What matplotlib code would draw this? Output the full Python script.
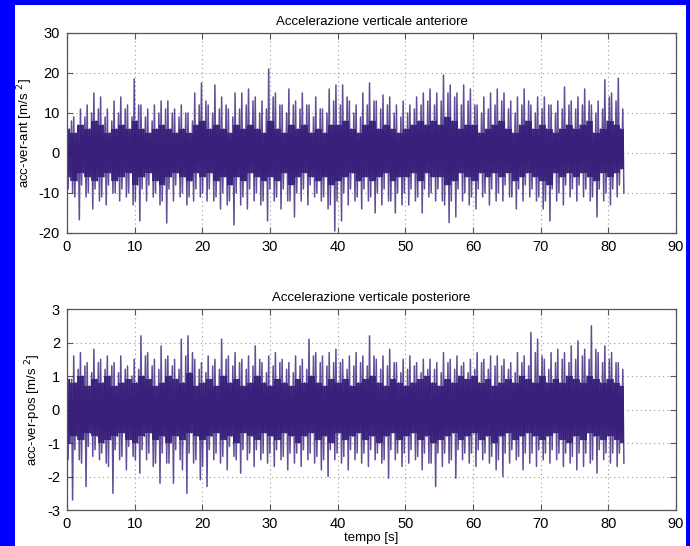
import numpy as np
import matplotlib
matplotlib.use("Agg")
import matplotlib.pyplot as plt
from matplotlib.patches import Rectangle

plt.rcParams['font.family'] = ['Liberation Sans', 'DejaVu Sans']
plt.rcParams['axes.unicode_minus'] = False

# per-second readings: main peak up/down, secondary peak up/down, dark band edges
ant_top = [10.5, 9, 11, 12, 15, 14, 11, 13, 14, 12,
           18.5, 12, 11, 12, 13, 13, 11, 12, 10, 15,
           17.5, 12, 17, 14, 11, 15, 15, 16, 14, 13,
           21, 15, 12, 16, 13, 15, 12, 14, 11, 16,
           17, 17, 13, 12, 15, 17.5, 13, 14.5, 14, 12,
           13, 12, 14, 15, 16, 15, 19.5, 17, 15, 17,
           16, 12, 14, 15, 16, 15, 13, 14, 16, 12,
           14, 14, 12, 13, 16.5, 13, 14, 16, 12, 13,
           18.3, 15, 18.7]
ant_top2 = [8, 7, 9, 10, 11, 9, 8, 10, 11, 9,
            12, 9, 8, 10, 11, 10, 9, 10, 8, 12,
            13, 10, 11, 12, 9, 11, 12, 13, 10, 11,
            14, 12, 10, 12, 11, 12, 9, 11, 10, 13,
            12, 14, 10, 9, 12, 13, 11, 12, 10, 9,
            10, 11, 12, 13, 12, 13, 15, 14, 12, 13,
            12, 10, 11, 12, 13, 11, 10, 12, 13, 10,
            11, 12, 10, 11, 12, 11, 12, 13, 10, 11,
            14, 13, 11]
ant_bot = [-10, -16.7, -11, -14, -12, -13, -10, -12, -11, -13,
           -17, -12, -11, -13, -17.5, -12, -11, -13, -12, -11,
           -12, -12, -14, -13, -18, -13, -14, -12, -13, -17,
           -12, -14, -12, -16, -12, -13, -11, -12, -14, -19.5,
           -17, -13, -12, -14, -12, -15, -13, -12, -15, -13,
           -13, -12, -15, -11, -12, -12, -17.4, -16, -12, -13,
           -14, -11, -13, -12, -12, -11, -14, -12, -11, -12,
           -14, -17, -12, -13, -11, -12, -11, -12, -16, -12,
           -13, -11, -10]
ant_bot2 = [-9, -11, -8, -10, -9, -11, -8, -10, -9, -10,
            -12, -9, -8, -10, -12, -9, -8, -10, -11, -9,
            -10, -9, -11, -10, -12, -10, -11, -9, -10, -12,
            -9, -11, -9, -12, -10, -9, -8, -10, -11, -13,
            -12, -10, -9, -11, -9, -11, -10, -9, -12, -10,
            -10, -9, -11, -9, -10, -9, -13, -12, -9, -10,
            -11, -9, -10, -9, -10, -8, -11, -9, -8, -9,
            -11, -12, -9, -10, -8, -9, -8, -9, -11, -9,
            -10, -9, -8]
ant_mid_hi = [6, 5, 7, 6, 8, 7, 5, 6, 7, 6,
              8, 6, 5, 6, 7, 6, 5, 6, 5, 7,
              8, 6, 7, 6, 5, 7, 6, 7, 6, 5,
              8, 6, 5, 7, 6, 7, 5, 6, 5, 7,
              7, 8, 6, 5, 7, 8, 6, 7, 6, 5,
              6, 7, 8, 7, 8, 7, 9, 8, 6, 7,
              7, 5, 6, 7, 8, 6, 5, 7, 8, 6,
              7, 6, 5, 6, 7, 6, 7, 8, 5, 6,
              8, 7, 6]
ant_mid_lo = [-6, -7, -5, -6, -7, -6, -5, -7, -6, -5,
              -8, -6, -5, -7, -8, -6, -5, -6, -7, -5,
              -6, -5, -7, -6, -8, -6, -7, -5, -6, -7,
              -6, -7, -5, -8, -6, -5, -6, -7, -6, -8,
              -7, -6, -5, -7, -6, -7, -6, -5, -7, -6,
              -6, -5, -7, -5, -6, -6, -8, -7, -5, -6,
              -7, -5, -6, -5, -6, -5, -7, -6, -5, -6,
              -7, -8, -5, -6, -5, -6, -5, -6, -7, -5,
              -6, -5, -4]

pos_top = [1.0, 1.6, 1.7, 1.4, 1.8, 1.5, 1.6, 1.4, 1.6, 1.3,
           1.5, 2.2, 1.7, 1.5, 1.9, 1.6, 1.5, 2.1, 2.2, 1.5,
           1.4, 1.6, 1.5, 2.1, 1.6, 1.7, 1.5, 1.6, 1.9, 1.4,
           1.6, 1.7, 1.5, 1.4, 1.6, 1.5, 2.1, 1.7, 1.6, 1.7,
           1.8, 1.5, 1.6, 1.7, 1.6, 2.2, 1.5, 1.6, 1.8, 1.4,
           1.5, 1.6, 1.4, 1.5, 1.5, 1.4, 1.7, 1.5, 1.6, 1.4,
           1.5, 1.7, 1.5, 1.6, 1.6, 1.5, 1.4, 1.7, 1.6, 2.3,
           2.1, 1.5, 1.7, 1.8, 1.7, 1.9, 2.05, 1.8, 2.5, 1.7,
           1.9, 1.7, 1.4]
pos_top2 = [0.9, 1.2, 1.3, 1.1, 1.4, 1.2, 1.3, 1.1, 1.2, 1.0,
            1.2, 1.6, 1.3, 1.2, 1.5, 1.3, 1.2, 1.6, 1.7, 1.2,
            1.1, 1.3, 1.2, 1.5, 1.3, 1.4, 1.2, 1.3, 1.5, 1.1,
            1.3, 1.4, 1.2, 1.1, 1.3, 1.2, 1.6, 1.4, 1.3, 1.4,
            1.4, 1.2, 1.3, 1.4, 1.3, 1.6, 1.2, 1.3, 1.4, 1.1,
            1.2, 1.3, 1.1, 1.2, 1.2, 1.1, 1.4, 1.2, 1.3, 1.1,
            1.2, 1.4, 1.2, 1.3, 1.3, 1.2, 1.1, 1.4, 1.3, 1.7,
            1.6, 1.2, 1.4, 1.5, 1.4, 1.5, 1.6, 1.5, 1.8, 1.4,
            1.5, 1.4, 1.2]
pos_bot = [-2.7, -1.5, -2.3, -1.4, -1.5, -1.6, -2.5, -1.5, -1.8, -1.4,
           -1.9, -1.5, -1.7, -2.2, -1.6, -2.2, -1.5, -2.5, -1.6, -2.1,
           -2.3, -1.5, -1.6, -1.8, -1.4, -1.9, -1.5, -1.7, -1.5, -1.6,
           -1.7, -1.5, -1.8, -1.6, -1.7, -1.5, -1.6, -1.8, -2.0, -1.5,
           -1.6, -1.8, -1.5, -1.6, -1.7, -1.5, -1.6, -2.05, -1.5, -1.7,
           -1.6, -1.5, -1.8, -1.6, -2.3, -1.7, -1.6, -2.05, -1.5, -1.6,
           -1.7, -1.5, -1.6, -1.8, -2.0, -1.6, -1.5, -1.8, -1.6, -1.7,
           -1.5, -1.6, -1.5, -1.7, -1.6, -1.8, -1.7, -1.6, -1.9, -1.5,
           -1.6, -1.7, -1.6]
pos_bot2 = [-1.5, -1.2, -1.6, -1.1, -1.2, -1.3, -1.7, -1.2, -1.4, -1.1,
            -1.5, -1.2, -1.3, -1.6, -1.3, -1.6, -1.2, -1.8, -1.3, -1.5,
            -1.7, -1.2, -1.3, -1.4, -1.1, -1.5, -1.2, -1.3, -1.2, -1.3,
            -1.3, -1.2, -1.4, -1.3, -1.3, -1.2, -1.3, -1.4, -1.5, -1.2,
            -1.3, -1.4, -1.2, -1.3, -1.3, -1.2, -1.3, -1.5, -1.2, -1.3,
            -1.3, -1.2, -1.4, -1.3, -1.6, -1.3, -1.3, -1.5, -1.2, -1.3,
            -1.3, -1.2, -1.3, -1.4, -1.5, -1.3, -1.2, -1.4, -1.3, -1.3,
            -1.2, -1.3, -1.2, -1.3, -1.3, -1.4, -1.3, -1.3, -1.5, -1.2,
            -1.3, -1.3, -1.3]
pos_mid_hi = [0.9, 0.8, 1.0, 0.7, 0.9, 0.8, 1.0, 0.7, 0.8, 0.9,
              0.8, 1.0, 0.9, 0.7, 0.8, 1.0, 0.9, 0.8, 1.1, 0.7,
              0.8, 0.9, 0.7, 1.0, 0.8, 0.9, 0.7, 0.8, 1.0, 0.8,
              0.7, 0.9, 0.8, 0.7, 0.9, 0.8, 1.0, 0.8, 0.7, 0.9,
              0.8, 0.9, 0.7, 0.8, 0.9, 1.0, 0.8, 0.7, 0.9, 0.8,
              0.7, 0.8, 0.9, 1.0, 0.8, 0.7, 0.9, 0.8, 1.0, 0.9,
              1.0, 0.8, 0.9, 0.7, 0.8, 0.9, 0.8, 1.0, 0.9, 0.8,
              1.0, 0.8, 0.9, 0.8, 1.0, 0.9, 0.8, 1.0, 0.9, 0.8,
              0.9, 0.8, 0.7]
pos_mid_lo = [-1.0, -0.8, -0.9, -0.7, -0.8, -1.0, -0.9, -0.8, -0.7, -0.9,
              -1.0, -0.8, -0.7, -0.9, -0.8, -1.0, -0.8, -0.9, -0.7, -0.8,
              -0.9, -0.8, -0.7, -0.9, -0.8, -1.0, -0.7, -0.8, -0.9, -0.7,
              -0.8, -0.9, -0.7, -0.8, -1.0, -0.8, -0.7, -0.9, -0.8, -1.0,
              -0.7, -0.9, -0.8, -0.7, -0.9, -0.8, -1.0, -0.8, -0.7, -0.9,
              -0.8, -0.7, -0.9, -0.8, -1.0, -0.9, -0.8, -0.7, -0.9, -0.8,
              -0.7, -0.9, -0.8, -1.0, -0.8, -0.7, -0.9, -0.8, -0.7, -0.8,
              -0.9, -0.8, -0.7, -0.9, -1.0, -0.8, -0.9, -0.7, -0.8, -0.9,
              -0.8, -0.9, -1.0]

t_end = 82.3
line_col = '#2c1274'
core_col = '#2a0e6c'


def draw(ax, top, top2, bot, bot2, mid_hi, mid_lo):
    # dark band where the signal is densest
    ts = np.linspace(0, t_end, len(mid_hi))
    ax.fill_between(ts, mid_lo, mid_hi, color=core_col, alpha=0.75, lw=0,
                    step='mid')
    seq = np.column_stack([top, bot2, mid_hi, mid_lo, top2, bot]).ravel()
    t = np.linspace(0, t_end, len(seq))
    ax.plot(t, seq, color=line_col, lw=1.1, alpha=0.75)


def style(ax, yticks):
    ax.set_xlim(0, 90)
    ax.set_ylim(yticks[0], yticks[-1])
    ax.set_xticks(range(0, 91, 10))
    ax.set_yticks(yticks)
    ax.set_axisbelow(True)
    ax.grid(True, linestyle=(0, (1, 3)), color='#999999', linewidth=0.8)
    ax.tick_params(direction='in', top=True, right=True, labelsize=10.5,
                   length=4, color='#555555', pad=5)
    for s in ax.spines.values():
        s.set_color('#555555')
        s.set_linewidth(0.9)


fig = plt.figure(figsize=(6.9, 5.46), dpi=100)

ax1 = fig.add_axes([0.0971, 0.5733, 0.8826, 0.3663])
draw(ax1, ant_top, ant_top2, ant_bot, ant_bot2, ant_mid_hi, ant_mid_lo)
style(ax1, [-20, -10, 0, 10, 20, 30])
ax1.set_title('Accelerazione verticale anteriore', fontsize=9.5, pad=6)
ax1.set_ylabel('acc-ver-ant [m/s $^{2}$]', fontsize=9.5, labelpad=3)

ax2 = fig.add_axes([0.0971, 0.0659, 0.8826, 0.3681])
draw(ax2, pos_top, pos_top2, pos_bot, pos_bot2, pos_mid_hi, pos_mid_lo)
style(ax2, [-3, -2, -1, 0, 1, 2, 3])
ax2.set_title('Accelerazione verticale posteriore', fontsize=9.5, pad=6)
ax2.set_ylabel('acc-ver-pos [m/s $^{2}$]', fontsize=9.5, labelpad=3)
ax2.set_xlabel('tempo [s]', fontsize=9.5, labelpad=1)

# blue frame around the slide
for x0, y0, w, h in [(0, 0, 15 / 690, 1), (0, 1 - 5 / 546, 1, 5 / 546),
                     (1 - 4 / 690, 0, 4 / 690, 1)]:
    fig.patches.append(Rectangle((x0, y0), w, h, transform=fig.transFigure,
                                 facecolor='#0000ff', edgecolor='none', zorder=10))

fig.savefig('out.png', dpi=100)
